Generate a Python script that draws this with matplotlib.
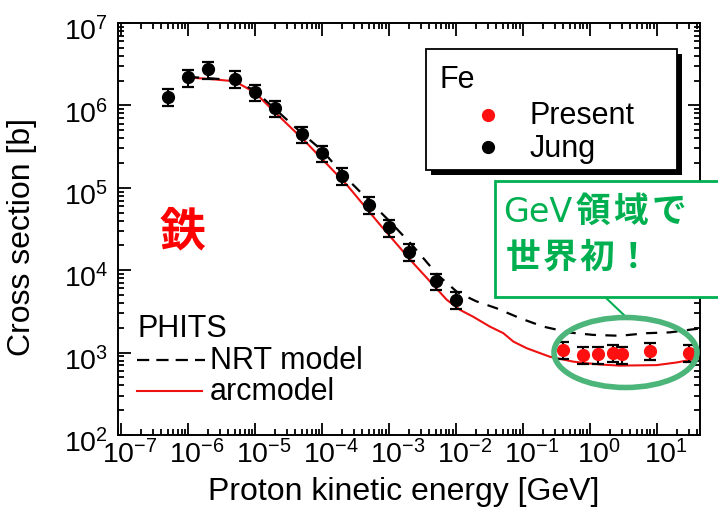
import matplotlib
matplotlib.use("Agg")
import matplotlib.pyplot as plt
from matplotlib.patches import Rectangle, Ellipse
from matplotlib.lines import Line2D
from matplotlib.transforms import ScaledTranslation
from matplotlib.ticker import (LogLocator, FixedLocator,
                               LogFormatterSciNotation, NullFormatter)

# ---- data -------------------------------------------------------------
# Jung et al. measurements for Fe (energy in GeV, cross section in barn)
jung_energy = [5e-7, 1e-6, 2e-6, 5e-6, 1e-5, 2e-5, 5e-5, 1e-4, 2e-4,
               5e-4, 1e-3, 2e-3, 5e-3, 1e-2]
jung_xs = [1.28e6, 2.2e6, 2.75e6, 2.1e6, 1.45e6, 9.3e5, 4.5e5, 2.65e5,
           1.4e5, 6.2e4, 3.3e4, 1.67e4, 7.4e3, 4.4e3]

# Present measurements for Fe in the GeV region
present_energy = [0.4, 0.8, 1.3, 2.2, 3.0, 8.0, 30.0]
present_xs = [1080, 940, 950, 1000, 950, 1050, 1000]

# relative uncertainty of both data sets
rel_err = 0.23

# PHITS calculations
nrt_energy = [1e-6, 2e-6, 5e-6, 1e-5, 2e-5, 5e-5, 1e-4, 2.3e-4, 5e-4, 1e-3,
              2.3e-3, 5.3e-3, 1.05e-2, 2e-2, 4e-2, 9e-2, 0.2, 0.5, 1.12,
              2.8, 7.0, 15.6, 35.0, 42.0]
nrt_xs = [2.22e6, 2.14e6, 2.02e6, 1.5e6, 9.0e5, 4.6e5, 2.85e5, 1.32e5,
          7.0e4, 4.0e4, 1.95e4, 8.8e3, 5.4e3, 4.2e3, 3.46e3, 2.62e3, 2.07e3,
          1.75e3, 1.64e3, 1.6e3, 1.72e3, 1.76e3, 1.92e3, 1.95e3]

arc_energy = [1e-6, 2e-6, 5e-6, 1e-5, 2e-5, 5.6e-5, 2.34e-4, 7.35e-4, 2.3e-3,
              7.3e-3, 1.15e-2, 1.8e-2, 3.2e-2, 5.1e-2, 7.2e-2, 0.114, 0.25,
              0.56, 0.79, 1.5, 2.8, 9.9, 20.0, 31.0, 42.0]
arc_xs = [2.18e6, 2.1e6, 1.96e6, 1.43e6, 8.2e5, 3.66e5, 1.09e5, 3.56e4,
          1.22e4, 4.37e3, 3.3e3, 2.73e3, 2.07e3, 1.72e3, 1.36e3, 1.13e3, 893,
          778, 750, 715, 695, 705, 760, 815, 850]

# labelled decades
x_decades = [1e-7, 1e-6, 1e-5, 1e-4, 1e-3, 1e-2, 1e-1, 1e0, 1e1]
y_decades = [1e2, 1e3, 1e4, 1e5, 1e6, 1e7]

x_label = "Proton kinetic energy [GeV]"
y_label = "Cross section [b]"

# ---- style ------------------------------------------------------------
plt.rcParams["font.family"] = ["Liberation Sans", "DejaVu Sans"]
plt.rcParams["mathtext.default"] = "regular"
plt.rcParams["mathtext.fontset"] = "custom"
plt.rcParams["mathtext.rm"] = "Liberation Sans"

W, H = 718, 523
GREEN = "#00b050"
CJK = ["Noto Sans CJK JP", "DejaVu Sans"]

fig = plt.figure(figsize=(W / 100, H / 100), dpi=100)

# axes box in pixels: left 118, right 700, top 23, bottom 435
AX_L, AX_R, AX_T, AX_B = 118, 700, 23, 435
ax = fig.add_axes([AX_L / W, 1 - AX_B / H, (AX_R - AX_L) / W, (AX_B - AX_T) / H])


def fpx(x, y):
    """figure pixel -> figure fraction"""
    return x / W, 1 - y / H


def apx(x, y):
    """figure pixel -> axes fraction"""
    return (x - AX_L) / (AX_R - AX_L), (AX_B - y) / (AX_B - AX_T)


ax.set_xscale("log")
ax.set_yscale("log")
ax.set_xlim(9.0e-8, 44)
ax.set_ylim(1e2, 1e7)

# model curves
ax.plot(arc_energy, arc_xs, color="#ee1111", lw=1.5, zorder=2)
ax.plot(nrt_energy, nrt_xs, color="black", lw=1.6, dashes=(5.0, 4.2), zorder=2)

# measurements
jung_err = [v * rel_err for v in jung_xs]
present_err = [v * rel_err for v in present_xs]
ax.errorbar(jung_energy, jung_xs, yerr=jung_err, fmt="o", color="black",
            ms=8.5, ecolor="black", elinewidth=1.5, capsize=4.6,
            capthick=1.6, zorder=3)
ax.errorbar(present_energy, present_xs, yerr=present_err, fmt="o",
            mfc="#ff1010", mec="#ff1010", ms=8.5, ecolor="black",
            elinewidth=1.5, capsize=4.6, capthick=1.6, zorder=3)

# ticks
ax.xaxis.set_major_locator(FixedLocator(x_decades))
ax.yaxis.set_major_locator(FixedLocator(y_decades))
for axis in (ax.xaxis, ax.yaxis):
    axis.set_minor_locator(LogLocator(base=10, subs=range(2, 10), numticks=20))
    axis.set_major_formatter(LogFormatterSciNotation())
    axis.set_minor_formatter(NullFormatter())
ax.tick_params(which="both", direction="in", top=True, right=True,
               width=1.3, color="black")
ax.tick_params(which="major", length=9)
ax.tick_params(which="minor", length=4.5)
ax.tick_params(axis="x", which="major", labelsize=20.5, pad=4)
ax.tick_params(axis="y", which="major", labelsize=20.5, pad=7)
for s in ax.spines.values():
    s.set_linewidth(1.4)

# axis titles
fig.text(*fpx(404, 500), x_label, fontsize=23, ha="center", va="baseline")
fig.text(*fpx(22.5, 237.5), y_label, fontsize=23, rotation=90,
         ha="center", va="center")

# ---- Fe legend box with solid shadow ------------------------------------
bx0, by0, bx1, by1 = 426, 49, 677, 170
sh = 5
x0, y0 = apx(bx0 + sh, by1 + sh)
x1, y1 = apx(bx1 + sh, by0 + sh)
ax.add_patch(Rectangle((x0, y0), x1 - x0, y1 - y0, transform=ax.transAxes,
                       facecolor="black", edgecolor="black", lw=0, zorder=5))
x0, y0 = apx(bx0, by1)
x1, y1 = apx(bx1, by0)
ax.add_patch(Rectangle((x0, y0), x1 - x0, y1 - y0, transform=ax.transAxes,
                       facecolor="white", edgecolor="black", lw=1.3, zorder=6))
ax.text(*apx(439, 80), "Fe", transform=ax.transAxes, fontsize=22,
        ha="left", va="center", zorder=7)
ax.add_line(Line2D([apx(488, 115)[0]], [apx(488, 115)[1]], marker="o",
                   ms=8.5, color="#ff1010", transform=ax.transAxes, zorder=7))
ax.add_line(Line2D([apx(488, 147)[0]], [apx(488, 147)[1]], marker="o",
                   ms=8.5, color="black", transform=ax.transAxes, zorder=7))
ax.text(*apx(530, 116), "Present", transform=ax.transAxes, fontsize=22,
        ha="left", va="center", zorder=7)
ax.text(*apx(530, 149), "Jung", transform=ax.transAxes, fontsize=22,
        ha="left", va="center", zorder=7)

# ---- PHITS legend -----------------------------------------------------
ax.text(*apx(137, 329), "PHITS", transform=ax.transAxes, fontsize=22,
        ha="left", va="center", zorder=7)
ax.add_line(Line2D([apx(137, 360)[0], apx(205, 360)[0]],
                   [apx(137, 360)[1], apx(205, 360)[1]], color="black",
                   lw=1.6, dashes=(5.5, 3.2), transform=ax.transAxes))
ax.text(*apx(210, 361), "NRT model", transform=ax.transAxes, fontsize=22,
        ha="left", va="center", zorder=7)
ax.add_line(Line2D([apx(137, 391)[0], apx(202, 391)[0]],
                   [apx(137, 391)[1], apx(202, 391)[1]], color="#ee1111",
                   lw=1.5, transform=ax.transAxes))
ax.text(*apx(210, 392), "arcmodel", transform=ax.transAxes, fontsize=22,
        ha="left", va="center", zorder=7)

# element name
fig.text(*fpx(182, 232), "鉄", family=CJK, fontsize=33, fontweight="bold",
         color="#ff0000", ha="center", va="center")

# ---- GeV callout ------------------------------------------------------
cx0, cy0, cx1, cy1 = 495, 181, 730, 297
fig.patches.append(Rectangle(fpx(cx0, cy1), (cx1 - cx0) / W, (cy1 - cy0) / H,
                             transform=fig.transFigure, facecolor="white",
                             edgecolor=GREEN, lw=2.0, zorder=10))
fig.lines.append(Line2D([fpx(605, 297)[0], fpx(626, 317)[0]],
                        [fpx(605, 297)[1], fpx(626, 317)[1]],
                        transform=fig.transFigure, color=GREEN, lw=1.5,
                        zorder=10))
fig.patches.append(Ellipse(fpx(625.5, 352.5), 143 / W, 70 / H,
                           transform=fig.transFigure, facecolor="none",
                           edgecolor="#4cb57a", lw=4.0, zorder=10))

t1 = fig.text(*fpx(503, 222), "GeV", family=["DejaVu Sans"], fontsize=24,
              color=GREEN, ha="left", va="baseline", zorder=11)
fig.canvas.draw()
bb = t1.get_window_extent(fig.canvas.get_renderer())


def cjk_line(x_start, y_base, chars, advance):
    """Bold CJK characters placed on a fixed pixel pitch."""
    for i, ch in enumerate(chars):
        fig.text(*fpx(x_start + i * advance, y_base), ch, family=CJK,
                 fontsize=25, fontweight="bold", color=GREEN, ha="left",
                 va="baseline", zorder=11)


cjk_line(bb.x1 + 3, 222, "領域で", 38)
cjk_line(506, 268, "世界初！", 36.5)

# centre the "10" of each x label on its tick; drop y labels slightly
dx = ScaledTranslation(9 / 100, 0, fig.dpi_scale_trans)
dy = ScaledTranslation(0, -6 / 100, fig.dpi_scale_trans)
for t in ax.xaxis.get_major_ticks():
    t.label1.set_transform(t.label1.get_transform() + dx)
for t in ax.yaxis.get_major_ticks():
    t.label1.set_transform(t.label1.get_transform() + dy)

fig.savefig("out.png", dpi=100)
